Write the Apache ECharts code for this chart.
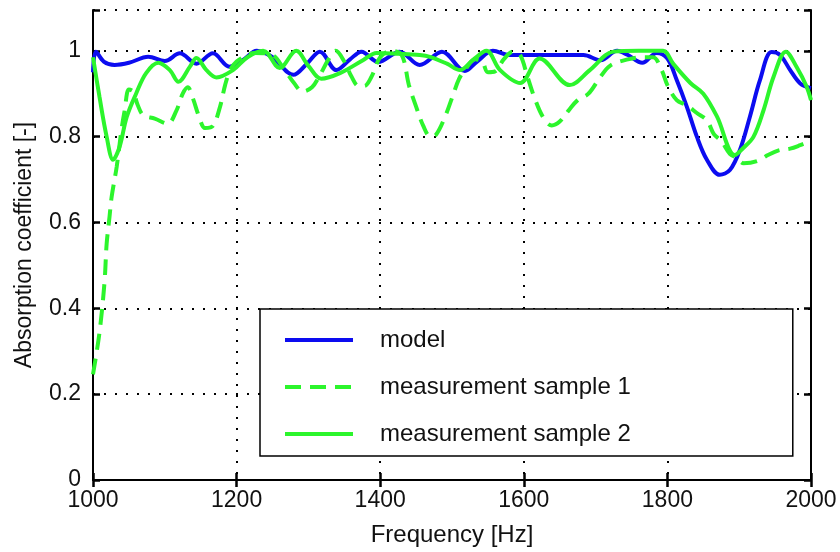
<!DOCTYPE html>
<html>
<head>
<meta charset="utf-8">
<script src="https://cdn.jsdelivr.net/npm/echarts@6/dist/echarts.min.js"></script>
<style>html,body{margin:0;padding:0;background:#fff}#c{width:840px;height:552px}</style>
</head>
<body>
<div id="c"></div>
<script>
// ---- data ----
const seriesNames = ['model', 'measurement sample 1', 'measurement sample 2'];
const xTicks = [1000, 1200, 1400, 1600, 1800, 2000];
const yTicks = [0, 0.2, 0.4, 0.6, 0.8, 1];

const modelFreq = [1000,1004,1015,1030,1050,1077,1100,1121,1144,1167,1190,1210,1228,1250,1279,1298,1316,1339,1358,1374,1397,1427,1455,1486,1518,1535,1557,1580,1620,1660,1683,1707,1730,1745,1765,1785,1800,1813,1827,1841,1855,1873,1887,1901,1915,1929,1945,1957,1971,1985,2000];
const modelVal  = [0.95,0.998,0.975,0.967,0.972,0.986,0.976,0.994,0.97,0.994,0.963,0.98,1.0,0.985,0.944,0.97,0.998,0.955,0.98,0.998,0.974,0.998,0.967,0.998,0.953,0.975,1.0,0.99,0.99,0.99,0.99,0.978,1.0,0.99,0.972,0.995,0.982,0.932,0.87,0.8,0.746,0.711,0.722,0.769,0.847,0.932,0.997,0.99,0.955,0.924,0.913];

const s1Freq = [1000,1009,1016,1019,1023,1026,1033,1040,1044,1050,1056,1062,1070,1086,1104,1116,1125,1132,1139,1148,1156,1167,1177,1184,1191,1200,1215,1225,1250,1265,1280,1292,1305,1315,1328,1338,1350,1360,1370,1378,1388,1400,1415,1430,1440,1450,1460,1470,1478,1490,1500,1510,1520,1532,1542,1550,1560,1572,1585,1595,1605,1615,1627,1639,1650,1662,1675,1690,1705,1720,1745,1765,1780,1792,1800,1813,1827,1841,1855,1865,1875,1887,1897,1906,1925,1940,1955,1971,1985,2000];
const s1Val  = [0.246,0.343,0.46,0.55,0.613,0.66,0.73,0.82,0.86,0.91,0.905,0.875,0.85,0.842,0.83,0.86,0.9,0.915,0.89,0.845,0.82,0.825,0.87,0.92,0.955,0.975,0.99,0.995,0.99,0.96,0.925,0.905,0.915,0.94,0.98,1.0,0.975,0.94,0.918,0.918,0.94,0.985,1.0,0.99,0.92,0.87,0.825,0.8,0.805,0.845,0.89,0.935,0.96,0.98,0.975,0.95,0.952,0.98,0.998,0.99,0.94,0.89,0.845,0.826,0.835,0.86,0.885,0.9,0.935,0.965,0.98,0.985,0.985,0.955,0.92,0.885,0.873,0.855,0.838,0.805,0.79,0.76,0.75,0.738,0.743,0.757,0.768,0.772,0.78,0.79];

const s2Freq = [1000,1009,1019,1028,1037,1047,1060,1074,1091,1107,1119,1135,1144,1158,1172,1195,1215,1237,1260,1283,1300,1318,1344,1376,1395,1425,1455,1469,1493,1511,1530,1548,1567,1595,1622,1664,1692,1725,1760,1794,1808,1832,1850,1869,1894,1906,1920,1934,1948,1965,1980,1994,2000];
const s2Val  = [0.985,0.893,0.8,0.746,0.776,0.846,0.9,0.948,0.972,0.955,0.928,0.963,0.983,0.955,0.938,0.955,0.985,1.0,0.96,1.0,0.965,0.935,0.948,0.978,0.995,0.993,0.99,0.986,0.97,0.955,0.98,1.0,0.955,0.925,0.982,0.92,0.955,0.998,1.0,1.0,0.97,0.925,0.9,0.847,0.757,0.774,0.8,0.862,0.94,0.998,0.962,0.916,0.885];

// ---- chart ----
const pairs = (xs, ys) => xs.map((x, i) => [x, ys[i]]);
const FONT = '"Liberation Sans", Arial, sans-serif';
const BLUE = '#0c0cf0';
const GREEN = '#2cf52c';
const yMax = 1.095;
const isTick = (v, arr) => arr.some(t => Math.abs(t - v) < 1e-6);

const chart = echarts.init(document.getElementById('c'), null, {renderer: 'canvas'});
const baseAxisLine = {show: true, lineStyle: {color: '#000', width: 2}};
const inTick = {show: true, inside: true, length: 7, lineStyle: {color: '#000', width: 2.5}};
const dotted = {show: true, lineStyle: {color: '#000', width: 2, type: [2, 9]}};

chart.setOption({
  animation: false,
  backgroundColor: '#fff',
  grid: {left: 93, right: 29, top: 10, bottom: 71, containLabel: false},
  legend: {
    orient: 'vertical',
    left: 260, top: 309,
    data: seriesNames,
    itemWidth: 68, itemHeight: 24, itemGap: 23,
    padding: [19, 162, 10, 23],
    borderColor: '#000', borderWidth: 1.5,
    backgroundColor: '#fff',
    itemStyle: {opacity: 0},
    lineStyle: {width: 4},
    textStyle: {fontFamily: FONT, fontSize: 24, color: '#111', padding: [0, 0, 0, 22]},
    selectedMode: false
  },
  xAxis: [{
    type: 'value', min: xTicks[0], max: xTicks[xTicks.length - 1], interval: 200,
    name: 'Frequency [Hz]', nameLocation: 'middle', nameGap: 43,
    nameTextStyle: {fontFamily: FONT, fontSize: 24, color: '#111'},
    axisLine: baseAxisLine, axisTick: inTick,
    axisLabel: {fontFamily: FONT, fontSize: 23, color: '#111', margin: 9,
      formatter: v => isTick(v, xTicks) ? String(v) : ''},
    splitLine: dotted
  }, {
    type: 'value', position: 'top', min: xTicks[0], max: xTicks[xTicks.length - 1], interval: 200,
    axisLine: baseAxisLine, axisTick: inTick, axisLabel: {show: false}, splitLine: {show: false}
  }],
  yAxis: [{
    type: 'value', min: 0, max: yMax, interval: 0.2,
    name: 'Absorption coefficient [-]', nameLocation: 'middle', nameGap: 57,
    nameTextStyle: {fontFamily: FONT, fontSize: 23, color: '#111'},
    axisLine: baseAxisLine, axisTick: inTick,
    axisLabel: {fontFamily: FONT, fontSize: 23, color: '#111', margin: 12,
      formatter: v => isTick(v, yTicks) ? String(+v.toFixed(1)) : ''},
    splitLine: dotted
  }, {
    type: 'value', position: 'right', min: 0, max: yMax, interval: 0.2,
    axisLine: baseAxisLine, axisTick: inTick, axisLabel: {show: false}, splitLine: {show: false}
  }],
  series: [{
    name: seriesNames[0], type: 'line', symbol: 'none', smooth: 0.35,
    lineStyle: {color: BLUE, width: 4}, itemStyle: {color: BLUE},
    data: pairs(modelFreq, modelVal)
  }, {
    name: seriesNames[1], type: 'line', symbol: 'none', smooth: 0.35,
    lineStyle: {color: GREEN, width: 4, type: [16, 9]}, itemStyle: {color: GREEN},
    data: pairs(s1Freq, s1Val)
  }, {
    name: seriesNames[2], type: 'line', symbol: 'none', smooth: 0.35,
    lineStyle: {color: GREEN, width: 4}, itemStyle: {color: GREEN},
    data: pairs(s2Freq, s2Val)
  }]
});
</script>
</body>
</html>
